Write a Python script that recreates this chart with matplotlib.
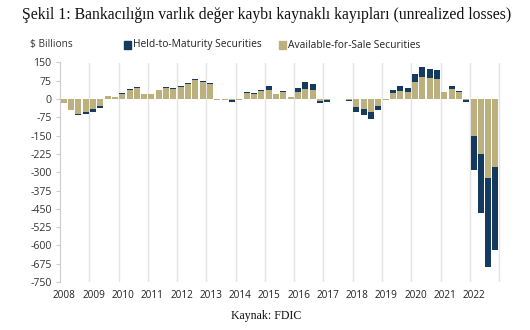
import matplotlib
matplotlib.use("Agg")
import matplotlib.pyplot as plt
import numpy as np

years = list(range(2008, 2023))
year_labels = [str(y) for y in years]

afs = [-16, -44, -63, -55,
       -41, -27, 12, 10,
       19, 37, 45, 20,
       20, 36, 47, 43,
       51, 60, 78, 70,
       61, -2, -2, -4,
       -2, 26, 21, 34,
       38, 20, 30, 8,
       29, 42, 38, -7,
       -3, -1, 2, -2,
       -33, -40, -52, -27,
       -2, 23, 34, 27,
       70, 90, 87, 83,
       30, 40, 30, -3,
       -151, -227, -324, -280]

htm = [0, 0, -2, -6,
       -11, -10, 0, 0,
       4, 4, 4, 2,
       2, 2, 3, 3,
       4, 4, 5, 5,
       4, -2, -2, -10,
       -1, 4, 2, 4,
       14, 2, 4, 2,
       16, 27, 25, -9,
       -9, 0, 0, -6,
       -20, -26, -31, -19,
       -1, 14, 19, 18,
       34, 41, 37, 37,
       0, 13, 2, -7,
       -141, -240, -365, -339]

yticks = [150, 75, 0, -75, -150, -225, -300, -375, -450, -525, -600, -675, -750]

title = "Şekil 1: Bankacılığın varlık değer kaybı kaynaklı kayıpları (unrealized losses)"
source = "Kaynak: FDIC"
series_names = ["Held-to-Maturity Securities", "Available-for-Sale Securities"]

NAVY = "#143a5f"
TAN = "#bdb07f"
SANS = ["Open Sans", "DejaVu Sans"]
SERIF = ["Liberation Serif", "DejaVu Serif"]

fig = plt.figure(figsize=(5.3, 3.3), dpi=100)
ax = fig.add_axes([60/530, 1-282/330, (505-60)/530, (282-62.5)/330])

afs_a = np.array(afs, dtype=float)
htm_a = np.array(htm, dtype=float)
x = 2008 + (np.arange(len(afs_a)) + 0.5) * 0.25
bottom_htm = np.where(np.sign(htm_a) == np.sign(afs_a), afs_a, 0)

ax.bar(x, afs_a, width=0.205, color=TAN, zorder=3, linewidth=0)
ax.bar(x, htm_a, width=0.205, bottom=bottom_htm, color=NAVY, zorder=3, linewidth=0)

ax.set_xlim(2008, 2023.2)
ax.set_ylim(-750, 150)
ax.set_yticks(yticks)
ax.set_yticklabels([str(v) for v in yticks], family=SANS, fontsize=7.6, color="#333333")
ax.set_xticks([y + 0.15 for y in years])
ax.set_xticklabels(year_labels, family=SANS, fontsize=7.2, color="#222222")
ax.tick_params(axis="x", length=0, pad=6)
ax.tick_params(axis="y", length=3, color="#cccccc", pad=3)

for yv in range(2009, 2024):
    ax.axvline(yv, color="#e4e4e4", linewidth=1.0, zorder=1)

for s in ["top", "right", "bottom"]:
    ax.spines[s].set_visible(False)
ax.spines["left"].set_color("#cccccc")
ax.spines["left"].set_linewidth(0.8)

fig.text(266.5/530, 1-15/330, title, family=SERIF, fontsize=11.3, ha="center", va="center", color="#111111")
fig.text(30/530, 1-45/330, "$ Billions", family=SANS, fontsize=7.3, ha="left", va="center", color="#333333")

# legend
fig.patches.append(plt.Rectangle((124/530, 1-48.5/330), 7/530, 7/330, transform=fig.transFigure, color=NAVY, figure=fig))
fig.text(133/530, 1-45/330, series_names[0], family=SANS, fontsize=7.4, ha="left", va="center", color="#222222")
fig.patches.append(plt.Rectangle((279/530, 1-48.5/330), 7/530, 7/330, transform=fig.transFigure, color=TAN, figure=fig))
fig.text(288/530, 1-45/330, series_names[1], family=SANS, fontsize=7.4, ha="left", va="center", color="#222222")

fig.text(266/530, 1-316/330, source, family=SERIF, fontsize=8.6, ha="center", va="center", color="#111111")

fig.savefig("out.png", dpi=100, facecolor="white")
